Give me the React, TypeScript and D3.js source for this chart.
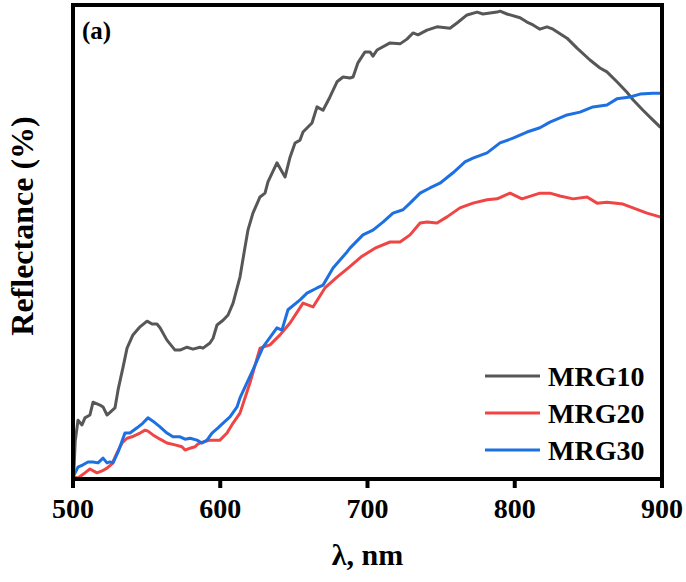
import React from "react";
import * as d3 from "d3";

const xTicks = [500, 600, 700, 800, 900];
const seriesNames = ["MRG10", "MRG20", "MRG30"];
const seriesColors = ["#575757", "#EF4545", "#1D70E2"];

const mrg10Wavelength = [500, 500.5, 501.5, 503.4, 506.1, 508.1, 511.5, 513.6, 518.3, 520.4, 523.1, 528.5, 530.6, 534.0, 536.7, 540.7, 545.5, 550.3, 553.7, 557.0, 559.1, 563.8, 569.3, 572.7, 577.4, 581.5, 586.2, 588.3, 593.0, 595.1, 597.8, 601.9, 605.3, 608.7, 613.4, 616.8, 618.8, 622.2, 627.0, 630.4, 632.4, 638.5, 644.0, 647.4, 650.8, 654.2, 656.2, 662.3, 665.7, 669.8, 674.5, 679.3, 683.4, 688.1, 690.2, 693.5, 698.3, 701.7, 703.7, 706.5, 715.3, 722.1, 726.8, 730.9, 734.3, 740.4, 747.2, 756.0, 760.8, 767.6, 774.4, 778.4, 788.0, 790.0, 794.7, 803.6, 808.3, 812.4, 817.1, 821.9, 826.0, 835.5, 842.3, 851.1, 857.9, 862.6, 869.4, 876.2, 880.3, 887.1, 893.9, 898.6, 900];
const mrg10Reflectance = [0.2, 1.0, 8.0, 12.4, 11.4, 12.9, 13.5, 16.2, 15.6, 15.2, 13.5, 15.0, 18.8, 23.6, 27.6, 30.4, 32.1, 33.3, 32.7, 32.7, 31.9, 29.3, 27.2, 27.2, 27.8, 27.4, 27.8, 27.6, 28.7, 29.7, 32.5, 33.5, 34.6, 37.1, 42.6, 48.9, 52.5, 56.1, 59.5, 60.3, 62.7, 66.7, 63.7, 67.9, 70.9, 71.5, 73.2, 75.1, 78.5, 77.8, 80.6, 83.8, 84.8, 84.6, 84.8, 87.8, 90.1, 90.1, 89.2, 90.5, 92.0, 91.8, 92.8, 94.1, 93.7, 94.7, 95.4, 95.1, 96.2, 97.9, 98.5, 98.1, 98.5, 98.7, 98.1, 97.3, 96.4, 95.8, 94.9, 95.4, 94.9, 93.0, 90.9, 88.4, 86.7, 85.9, 83.8, 81.6, 80.0, 77.8, 75.7, 74.3, 74.0];

const mrg20Wavelength = [500.2, 503.4, 508.1, 511.5, 516.3, 519.7, 523.1, 526.5, 529.9, 533.3, 536.7, 540.1, 545.5, 549.0, 550.9, 554.3, 559.1, 563.8, 569.3, 574.0, 576.1, 579.5, 582.9, 584.9, 588.3, 593.0, 596.4, 599.8, 604.6, 608.7, 613.4, 620.2, 627.0, 633.8, 640.6, 647.4, 656.2, 663.0, 671.1, 679.3, 686.8, 696.3, 705.1, 715.3, 722.1, 728.9, 735.7, 740.4, 747.2, 754.0, 762.8, 771.6, 781.2, 788.0, 796.8, 804.9, 817.1, 823.9, 830.7, 839.6, 849.1, 855.9, 862.6, 873.5, 880.3, 889.8, 898.6, 900];
const mrg20Reflectance = [0.4, 0.2, 1.3, 2.1, 1.3, 1.7, 2.3, 3.2, 5.5, 7.6, 8.6, 8.9, 9.7, 10.3, 10.1, 9.3, 8.4, 7.6, 7.2, 6.8, 6.1, 6.5, 6.8, 7.4, 7.8, 8.2, 8.2, 8.2, 9.7, 11.8, 13.9, 20.3, 27.6, 28.3, 30.4, 32.9, 37.1, 36.3, 40.3, 42.6, 44.5, 47.0, 48.7, 50.0, 50.0, 51.5, 54.0, 54.2, 54.0, 55.3, 57.2, 58.2, 58.9, 59.1, 60.3, 59.1, 60.3, 60.3, 59.7, 59.1, 59.5, 58.2, 58.4, 58.0, 57.2, 56.1, 55.3, 55.0];

const mrg30Wavelength = [500, 503.4, 506.8, 510.2, 513.6, 517.0, 520.4, 523.1, 525.1, 527.2, 530.6, 535.3, 538.7, 543.5, 547.5, 550.9, 554.3, 559.1, 563.8, 567.9, 572.7, 576.1, 579.5, 584.2, 587.6, 591.0, 594.4, 598.5, 601.9, 606.6, 611.4, 613.4, 622.2, 629.0, 638.5, 641.9, 646.0, 654.2, 658.9, 665.7, 669.8, 676.6, 686.1, 688.1, 696.9, 703.7, 710.5, 717.3, 724.1, 728.9, 735.7, 742.4, 749.2, 758.1, 766.2, 771.6, 781.2, 790.0, 798.8, 808.3, 817.1, 823.9, 835.5, 844.3, 853.1, 862.6, 869.4, 878.3, 885.1, 893.9, 898.6, 900];
const mrg30Reflectance = [0.4, 2.5, 3.0, 3.6, 3.6, 3.4, 4.4, 3.4, 3.6, 3.4, 5.7, 9.7, 9.7, 10.8, 11.8, 12.9, 12.2, 11.0, 9.7, 8.9, 8.9, 8.4, 8.6, 8.2, 7.6, 8.2, 9.7, 10.8, 11.8, 13.1, 15.2, 17.1, 23.0, 27.8, 31.9, 31.4, 35.7, 37.8, 39.2, 40.3, 40.9, 44.5, 47.9, 48.7, 51.5, 52.5, 54.2, 56.1, 56.8, 58.2, 60.3, 61.4, 62.4, 64.6, 66.9, 67.7, 68.8, 70.9, 71.9, 73.2, 74.1, 75.3, 76.8, 77.4, 78.5, 78.9, 80.2, 80.6, 81.2, 81.4, 81.4, 81.4];

const W = 686;
const H = 582;
const M = { left: 65, right: 662, top: 5, bottom: 479 };
const FONT = "'Times New Roman', 'Liberation Serif', Times, serif";

export default function App() {
  const x = d3.scaleLinear().domain([500, 900]).range([M.left + 8, M.right]);
  const y = d3.scaleLinear().domain([0, 100]).range([M.bottom, M.top]);
  const line = d3
    .line<[number, number]>()
    .x((d) => x(d[0]))
    .y((d) => y(d[1]));

  const series = [
    d3.zip(mrg10Wavelength, mrg10Reflectance) as [number, number][],
    d3.zip(mrg20Wavelength, mrg20Reflectance) as [number, number][],
    d3.zip(mrg30Wavelength, mrg30Reflectance) as [number, number][],
  ];

  const x0 = x(500);
  const x1 = x(900);
  const yb = y(0);
  const yt = y(100);
  const legendY = [376, 413, 450];

  return (
    <svg
      width={W}
      height={H}
      style={{ position: "absolute", left: 0, top: 0 }}
      fontFamily={FONT}
    >
      <rect width={W} height={H} fill="#fff" />
      <defs>
        <clipPath id="plot">
          <rect x={x0} y={yt} width={x1 - x0} height={yb - yt} />
        </clipPath>
      </defs>
      <g clipPath="url(#plot)">
        {series.map((s, i) => (
          <path
            key={i}
            d={line(s) || ""}
            fill="none"
            stroke={seriesColors[i]}
            strokeWidth={3}
            strokeLinejoin="round"
          />
        ))}
      </g>
      <rect
        x={x0}
        y={yt}
        width={x1 - x0}
        height={yb - yt}
        fill="none"
        stroke="#000"
        strokeWidth={4}
      />
      {xTicks.map((t) => (
        <g key={t}>
          <line x1={x(t)} x2={x(t)} y1={yb} y2={yb + 9} stroke="#000" strokeWidth={4} />
          <text
            x={x(t)}
            y={518}
            textAnchor="middle"
            fontSize={28}
            fontWeight="bold"
            fill="#000"
          >
            {t}
          </text>
        </g>
      ))}
      <text x={(x0 + x1) / 2} y={565} textAnchor="middle" fontSize={30} fontWeight="bold">
        λ, nm
      </text>
      <text
        transform={`translate(33, ${226}) rotate(-90)`}
        textAnchor="middle"
        fontSize={32}
        fontWeight="bold"
      >
        Reflectance (%)
      </text>
      <text x={82} y={39} fontSize={25} fontWeight="bold">
        (a)
      </text>
      {seriesNames.map((n, i) => (
        <g key={n}>
          <line
            x1={485}
            x2={540}
            y1={legendY[i]}
            y2={legendY[i]}
            stroke={seriesColors[i]}
            strokeWidth={3}
          />
          <text x={548} y={legendY[i] + 10} fontSize={28} fontWeight="bold">
            {n}
          </text>
        </g>
      ))}
    </svg>
  );
}
